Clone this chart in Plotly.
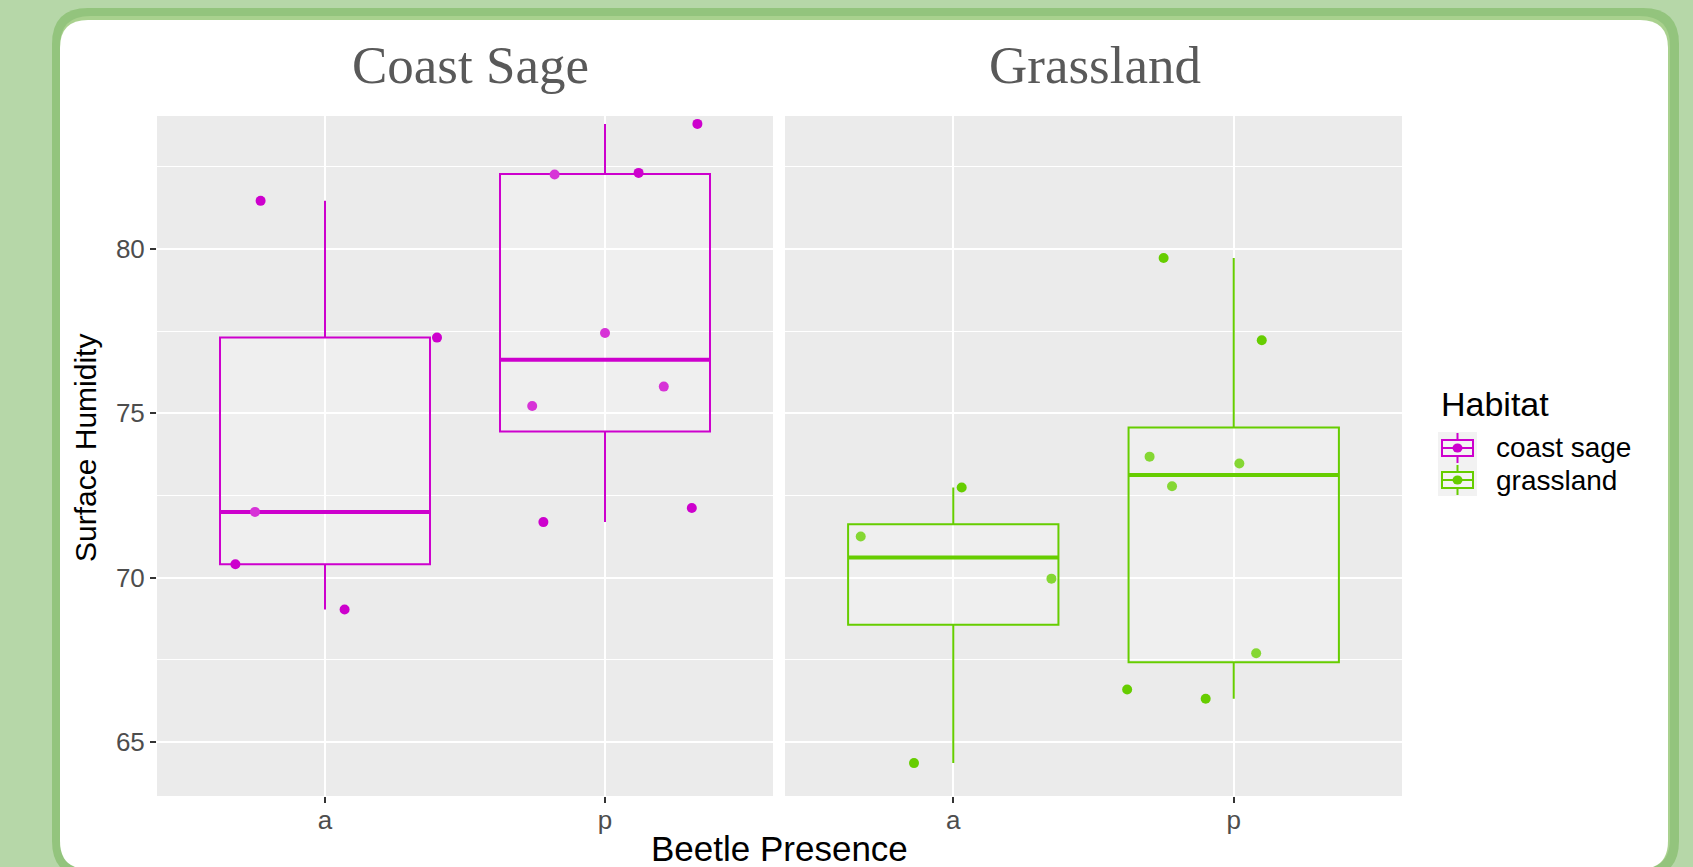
import numpy as np
import plotly.graph_objects as go

W, H = 1693, 867

# ---------------- data ----------------
habitats = ["coast sage", "grassland"]
panel_titles = ["Coast Sage", "Grassland"]
presence = ["a", "p"]
habitat_colors = ["#CD00CD", "#66CD00"]

coast_a = [81.46, 77.30, 72.00, 70.41, 69.03]
coast_a_jitter = [-0.23, 0.40, -0.25, -0.32, 0.07]
coast_p = [83.80, 82.26, 82.31, 77.44, 75.22, 75.81, 71.69, 72.12]
coast_p_jitter = [0.33, -0.18, 0.12, 0.00, -0.26, 0.21, -0.22, 0.31]
grass_a = [71.25, 72.74, 69.97, 64.36]
grass_a_jitter = [-0.33, 0.03, 0.35, -0.14]
grass_p = [79.72, 77.22, 73.68, 73.47, 72.78, 67.70, 66.60, 66.32]
grass_p_jitter = [-0.25, 0.10, -0.30, 0.02, -0.22, 0.08, -0.38, -0.10]

y_ticks = [65, 70, 75, 80]

groups = [
    [(coast_a, coast_a_jitter), (coast_p, coast_p_jitter)],
    [(grass_a, grass_a_jitter), (grass_p, grass_p_jitter)],
]

BOX_W = 0.75
SANS = "Liberation Sans, Arial, sans-serif"
SERIF = "Liberation Serif, Times New Roman, serif"


def px(x):
    return x / W


def py(y):
    return 1 - y / H


def blend_white(hexcol, a):
    h = hexcol.lstrip("#")
    r, g, b = int(h[0:2], 16), int(h[2:4], 16), int(h[4:6], 16)
    r, g, b = [int(round(c + (255 - c) * a)) for c in (r, g, b)]
    return f"rgb({r},{g},{b})"


def box_stats(vals):
    v = np.asarray(vals, dtype=float)
    q1, med, q3 = np.percentile(v, [25, 50, 75])
    iqr = q3 - q1
    lo = v[v >= q1 - 1.5 * iqr].min()
    hi = v[v <= q3 + 1.5 * iqr].max()
    return q1, med, q3, lo, hi


fig = go.Figure()

axis_names = [("x", "y"), ("x2", "y2")]
for hi_, hab in enumerate(habitats):
    col = habitat_colors[hi_]
    xr, yr = axis_names[hi_]
    for pi_, (vals, jit) in enumerate(groups[hi_]):
        xpos = pi_ + 1
        q1, med, q3, lo, hi = box_stats(vals)
        fig.add_trace(go.Box(
            x=[xpos], q1=[q1], median=[med], q3=[q3],
            lowerfence=[lo], upperfence=[hi],
            width=BOX_W, whiskerwidth=0, boxpoints=False,
            line=dict(color=col, width=2),
            fillcolor="rgba(255,255,255,0.2)",
            name=hab, showlegend=False,
            xaxis=xr, yaxis=yr, hoverinfo="skip",
        ))
        fig.add_trace(go.Scatter(
            x=[xpos - BOX_W / 2, xpos + BOX_W / 2], y=[med, med],
            mode="lines", line=dict(color=col, width=4),
            showlegend=False, xaxis=xr, yaxis=yr, hoverinfo="skip",
        ))
        xs = [xpos + j for j in jit]
        pcols = []
        for v, j in zip(vals, jit):
            inside = (q1 < v < q3) and abs(j) < BOX_W / 2
            pcols.append(blend_white(col, 0.2) if inside else col)
        fig.add_trace(go.Scatter(
            x=xs, y=vals, mode="markers", name=hab,
            marker=dict(color=pcols, size=10, line=dict(width=0)),
            showlegend=False, xaxis=xr, yaxis=yr,
        ))

# ---------------- background / frame ----------------
def rrect(x0, y0, x1, y1, r):
    rx, ry = r / W, r / H
    X0, X1 = px(x0), px(x1)
    Y0, Y1 = py(y0), py(y1)
    return (f"M {X0 + rx},{Y0} L {X1 - rx},{Y0} Q {X1},{Y0} {X1},{Y0 - ry} "
            f"L {X1},{Y1 + ry} Q {X1},{Y1} {X1 - rx},{Y1} "
            f"L {X0 + rx},{Y1} Q {X0},{Y1} {X0},{Y1 + ry} "
            f"L {X0},{Y0 - ry} Q {X0},{Y0} {X0 + rx},{Y0} Z")


shapes = [
    dict(type="path", xref="paper", yref="paper", layer="below",
         path=rrect(52, 8, 1679, 877, 36), fillcolor="#93C47D", line=dict(width=0)),
    dict(type="path", xref="paper", yref="paper", layer="below",
         path=rrect(60, 16, 1670, 869, 30), fillcolor="#A9D18E", line=dict(width=0)),
    dict(type="path", xref="paper", yref="paper", layer="below",
         path=rrect(60, 20, 1668, 869, 28), fillcolor="#FFFFFF", line=dict(width=0)),
]
left_dom = [px(157), px(773)]
right_dom = [px(785), px(1402)]
y_dom = [py(796), py(116)]
for dom in (left_dom, right_dom):
    shapes.append(dict(type="rect", xref="paper", yref="paper", layer="below",
                       x0=dom[0], x1=dom[1], y0=y_dom[0], y1=y_dom[1],
                       fillcolor="#EBEBEB", line=dict(width=0)))

annotations = [
    dict(text=panel_titles[0], x=px(470), y=py(65.5), xref="paper", yref="paper",
         showarrow=False, xanchor="center", yanchor="middle",
         font=dict(family=SERIF, size=53, color="#595959")),
    dict(text=panel_titles[1], x=px(1095), y=py(65.5), xref="paper", yref="paper",
         showarrow=False, xanchor="center", yanchor="middle",
         font=dict(family=SERIF, size=53, color="#595959")),
    dict(text="Beetle Presence", x=px(779.5), y=py(848), xref="paper", yref="paper",
         showarrow=False, xanchor="center", yanchor="middle",
         font=dict(family=SANS, size=35, color="#000000")),
    dict(text="Surface Humidity", x=px(86), y=py(448), xref="paper", yref="paper",
         showarrow=False, xanchor="center", yanchor="middle", textangle=-90,
         font=dict(family=SANS, size=30, color="#000000")),
    dict(text="Habitat", x=px(1439), y=py(404), xref="paper", yref="paper",
         showarrow=False, xanchor="left", yanchor="middle",
         font=dict(family=SANS, size=34, color="#000000")),
]

# ---------------- legend (ggplot-style keys) ----------------
KEY_X0, KEY_X1 = 1438, 1477
KEY_ROW0, KEY_STEP = 448, 32
for i, hab in enumerate(habitats):
    col = habitat_colors[i]
    cy = KEY_ROW0 + i * KEY_STEP
    cx = (KEY_X0 + KEY_X1) / 2
    shapes.append(dict(type="rect", xref="paper", yref="paper",
                       x0=px(KEY_X0), x1=px(KEY_X1), y0=py(cy + 16), y1=py(cy - 16),
                       fillcolor="#F2F2F2", line=dict(width=0)))
    shapes.append(dict(type="rect", xref="paper", yref="paper",
                       x0=px(KEY_X0 + 4), x1=px(KEY_X1 - 4), y0=py(cy + 8), y1=py(cy - 8),
                       fillcolor="rgba(255,255,255,0.2)", line=dict(color=col, width=2)))
    for a, b in ((cy - 15, cy - 8), (cy + 8, cy + 15)):
        shapes.append(dict(type="line", xref="paper", yref="paper",
                           x0=px(cx), x1=px(cx), y0=py(a), y1=py(b),
                           line=dict(color=col, width=2)))
    shapes.append(dict(type="line", xref="paper", yref="paper",
                       x0=px(KEY_X0 + 4), x1=px(KEY_X1 - 4), y0=py(cy), y1=py(cy),
                       line=dict(color=col, width=2)))
    shapes.append(dict(type="circle", xref="paper", yref="paper",
                       x0=px(cx - 5), x1=px(cx + 5), y0=py(cy + 4.5), y1=py(cy - 4.5),
                       fillcolor=col, line=dict(width=0)))
    annotations.append(dict(text=hab, x=px(1494), y=py(cy), xref="paper", yref="paper",
                            showarrow=False, xanchor="left", yanchor="middle",
                            font=dict(family=SANS, size=28, color="#000000")))

TICKFONT = dict(family=SANS, size=26, color="#4D4D4D")

xaxis_common = dict(
    range=[0.4, 2.6], tickvals=[1, 2], ticktext=presence,
    showgrid=True, gridcolor="#FFFFFF", gridwidth=2,
    ticks="outside", ticklen=6, tickwidth=2, tickcolor="#333333",
    tickfont=TICKFONT, zeroline=False, showline=False, fixedrange=True,
    ticklabelstandoff=-5,
)
yaxis_common = dict(
    range=[63.36, 84.04], tickvals=y_ticks,
    showgrid=True, gridcolor="#FFFFFF", gridwidth=2,
    minor=dict(dtick=2.5, tick0=0, showgrid=True, gridcolor="#FFFFFF", gridwidth=1, ticks=""),
    zeroline=False, showline=False, fixedrange=True, domain=y_dom,
)

fig.update_layout(
    width=W, height=H, autosize=False,
    margin=dict(l=0, r=0, t=0, b=0),
    paper_bgcolor="#B6D7A8", plot_bgcolor="#EBEBEB",
    shapes=shapes, annotations=annotations,
    boxmode="overlay", showlegend=False,
    xaxis=dict(domain=left_dom, anchor="y", **xaxis_common),
    xaxis2=dict(domain=right_dom, anchor="y2", **xaxis_common),
    yaxis=dict(anchor="x", ticks="outside", ticklen=6, tickwidth=2, tickcolor="#333333",
               tickfont=TICKFONT, **yaxis_common),
    yaxis2=dict(anchor="x2", matches="y", showticklabels=False, ticks="", **yaxis_common),
)

fig.write_html("out.html", config={"displayModeBar": False},
               post_script="document.body.style.margin='0';document.body.style.overflow='hidden';")
